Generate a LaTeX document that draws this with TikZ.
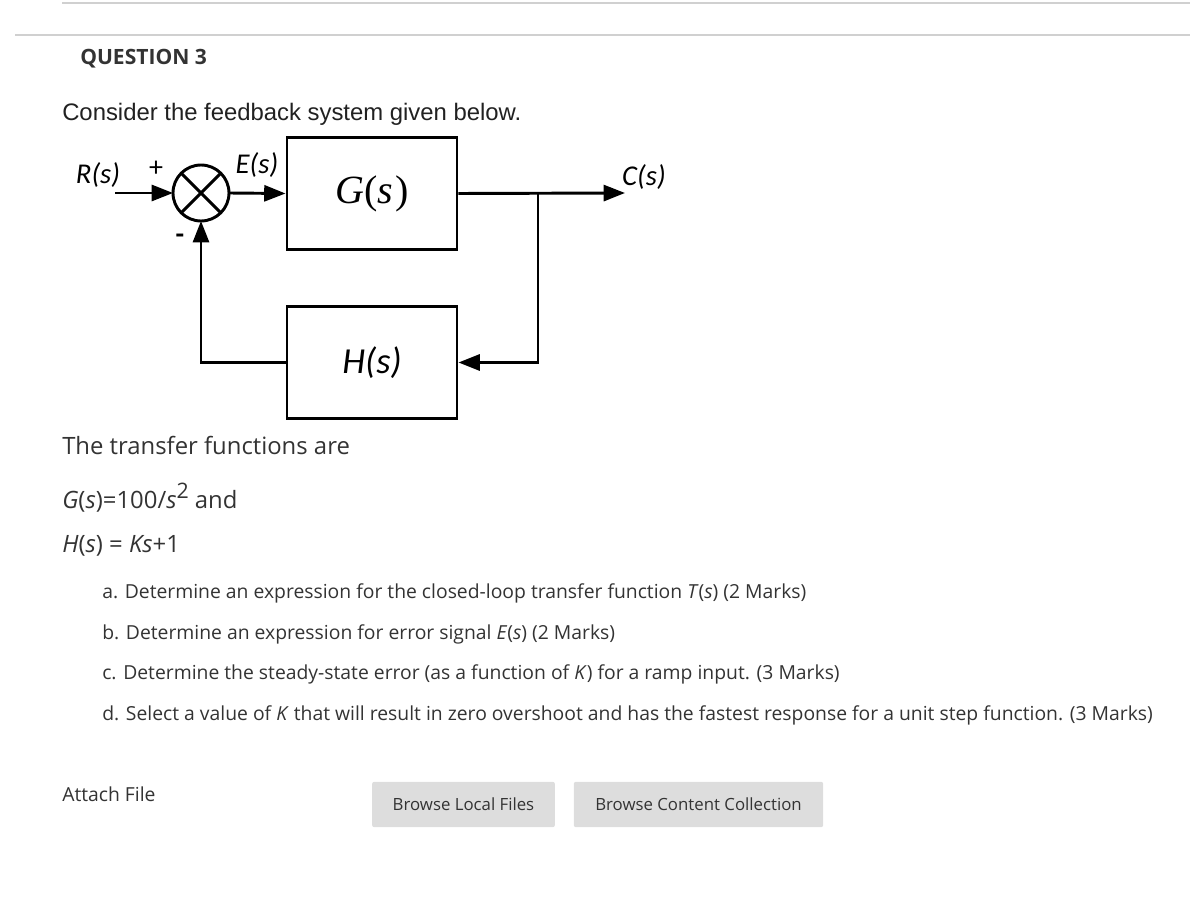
\documentclass[tikz,border=0pt]{standalone}
\usepackage{fontspec}
\setmainfont{Open Sans}
\newfontfamily\arialfont{Liberation Sans}
\newfontfamily\calfont{Carlito}
\newfontfamily\serfont{Liberation Serif}
\usetikzlibrary{arrows.meta}
\definecolor{txtgray}{HTML}{333333}
\definecolor{rulegray}{HTML}{D0D0D0}
\definecolor{btngray}{HTML}{DDDDDD}
\tikzset{
  blockbox/.style={draw, line width=2.2pt, minimum width=127.5pt, minimum height=84pt, inner sep=0pt},
  sig/.style={line width=2.2pt, -{Triangle[length=16pt,width=12pt]}},
  siglabel/.style={font=\fontsize{21.5}{22}\calfont\itshape, inner sep=0pt},
  qtext/.style={anchor=base west, inner sep=0pt, text=txtgray, font=\fontsize{17.9}{20}\selectfont},
  parttext/.style={anchor=base west, inner sep=0pt, text=txtgray, font=\fontsize{14.5}{16}\selectfont},
  btn/.style={fill=btngray, rounded corners=1.5pt, minimum width=137pt, minimum height=34pt, inner sep=0pt, text=txtgray, font=\fontsize{12.6}{14}\selectfont}
}
\begin{document}
\begin{tikzpicture}[x=0.75pt,y=-0.75pt]
\useasboundingbox (0,0) rectangle (1190,898);
\draw[rulegray, line width=1.5pt] (62,3) -- (1190,3);
\draw[rulegray, line width=1.5pt] (15,35) -- (1190,35);
\node[qtext, font=\fontsize{15.8}{18}\selectfont\bfseries] (qtitle) at (80,65) {QUESTION 3};
\node[qtext, text=black!87, font=\fontsize{17.9}{20}\arialfont] (intro) at (62,121) {Consider the feedback system given below.};

% block diagram
\node[circle, draw, line width=2.2pt, minimum size=42pt, inner sep=0pt, outer sep=0pt] (sum) at (201,193) {};
\draw[line width=2.2pt] (sum.45) -- (sum.225);
\draw[line width=2.2pt] (sum.135) -- (sum.315);
\node[blockbox] (G) at (372,193.5) {\fontsize{30}{30}\serfont\textit{G}(\textit{s\kern0.04em})};
\node[blockbox] (H) at (372,362.5) {\fontsize{27.5}{28}\calfont\itshape H(s)};
\coordinate (rin) at (115,193);
\coordinate (cout) at (625,193);
\coordinate (branch) at (538,193);
\draw[sig] (rin) -- (sum.west);
\draw[sig] (sum.east) -- (G.west);
\draw[sig] (G.east) -- (cout);
\draw[sig] (branch) |- (H.east);
\draw[sig] (H.west) -| (sum.south);
\node[siglabel] (rlab) at (98,175) {R(s)};
\node[siglabel] (elab) at (257,165) {E(s)};
\node[siglabel] (clab) at (644,177) {C(s)};
\node[font=\fontsize{21}{21}\calfont, inner sep=0pt] (plus) at (156,169) {+};
\node[font=\fontsize{21}{21}\calfont\bfseries, inner sep=0pt] (minus) at (180,239) {-};

% transfer functions
\node[qtext] (tfhead) at (62,455) {The transfer functions are};
\node[qtext] (gdef) at (62,509) {\textit{G}(\textit{s})=100/\textit{s}\raisebox{0.42em}{\fontsize{16}{16}\selectfont 2} and};
\node[qtext] (hdef) at (62,553) {\textit{H}(\textit{s}) = \textit{Ks}+1};

% question parts
\node[parttext] (parta) at (102,599) {a. Determine an expression for the closed-loop transfer function \textit{T}(\textit{s}) (2 Marks)};
\node[parttext] (partb) at (102,639) {b. Determine an expression for error signal \textit{E}(\textit{s}) (2 Marks)};
\node[parttext] (partc) at (102,679) {c. Determine the steady-state error (as a function of \textit{K}) for a ramp input. (3 Marks)};
\node[parttext] (partd) at (102,720) {d. Select a value of \textit{K} that will result in zero overshoot and has the fastest response for a unit step function. (3 Marks)};

% attach
\node[parttext] (attach) at (62,801) {Attach File};
\node[btn, minimum width=137pt] (local) at (463.5,804.5) {Browse Local Files};
\node[btn, minimum width=187pt] (collection) at (698.5,804.5) {Browse Content Collection};
\end{tikzpicture}
\end{document}
